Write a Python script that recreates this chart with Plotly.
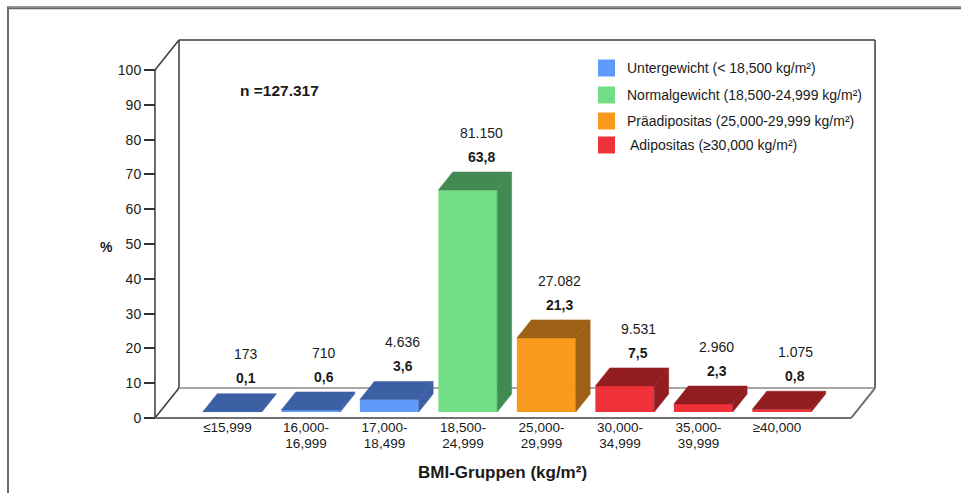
import plotly.graph_objects as go

# ---- data -------------------------------------------------------------
CATEGORIES = ["≤15,999", "16,000-16,999", "17,000-18,499", "18,500-24,999",
              "25,000-29,999", "30,000-34,999", "35,000-39,999", "≥40,000"]
COUNTS = [173, 710, 4636, 81150, 27082, 9531, 2960, 1075]
PERCENT = [0.1, 0.6, 3.6, 63.8, 21.3, 7.5, 2.3, 0.8]
GROUP = [0, 0, 0, 1, 2, 3, 3, 3]
GROUP_LABELS = ["Untergewicht (< 18,500 kg/m²)",
                "Normalgewicht (18,500-24,999 kg/m²)",
                "Präadipositas (25,000-29,999 kg/m²)",
                "Adipositas (≥30,000 kg/m²)"]
N_TOTAL = "127.317"
Y_TICKS = list(range(0, 101, 10))

# ---- styling ----------------------------------------------------------
FRONT = ["#5F9BF8", "#72DC86", "#F79A1E", "#EF323A"]
DARK = ["#3D5FA4", "#418A54", "#9D6016", "#921D21"]
FONT = "Liberation Sans, Arial, sans-serif"
TXT = "#1a1a1a"

W, H = 961, 493
ML, MR, MT, MB = 150, 81, 36, 71
PW, PH = W - ML - MR, H - MT - MB


def px_x(p):
    return (p - ML) / PW


def px_y(p):
    return (H - MB - p) / PH


X_RANGE = [-0.9873, 8.3121]
Y_RANGE = [-1.149, 109.77]

# pseudo-3D box: front floor edge, depth offsets
XL, XF = -0.924, 7.943
DX, DY = 0.306, 8.62
TOP = 100
BAR_W = 0.75
F0, F1 = 0.2, 0.8          # bar depth span as fraction of the box depth

fig = go.Figure()

# front faces of the bars
fx = [i + F0 * DX for i in range(len(PERCENT))]
fig.add_trace(go.Bar(
    x=fx, y=PERCENT, base=F0 * DY, width=BAR_W,
    marker=dict(color=[FRONT[g] for g in GROUP], line=dict(width=0)),
    hoverinfo="skip", showlegend=False))

# top and side faces
bdx, bdy = (F1 - F0) * DX, (F1 - F0) * DY
for i, (v, g) in enumerate(zip(PERCENT, GROUP)):
    xl = fx[i] - BAR_W / 2
    xr = fx[i] + BAR_W / 2
    y0 = F0 * DY
    yt = y0 + v
    top_x = [xl, xr, xr + bdx, xl + bdx, xl]
    top_y = [yt, yt, yt + bdy, yt + bdy, yt]
    side_x = [xr, xr, xr + bdx, xr + bdx, xr]
    side_y = [y0, yt, yt + bdy, y0 + bdy, y0]
    for xs, ys in ((side_x, side_y), (top_x, top_y)):
        fig.add_trace(go.Scatter(
            x=xs, y=ys, mode="lines", fill="toself",
            fillcolor=DARK[g], line=dict(color=DARK[g], width=0.5),
            hoverinfo="skip", showlegend=False))

# helper trace so the second label row axis is rendered
fig.add_trace(go.Scatter(x=[0], y=[0], xaxis="x2", mode="markers",
                         marker=dict(opacity=0), hoverinfo="skip",
                         showlegend=False))

# value labels
for i, (v, c) in enumerate(zip(PERCENT, COUNTS)):
    xc = i + 0.23
    fig.add_annotation(x=xc, y=v + 18.2, text=f"{c:,}".replace(",", "."),
                       showarrow=False, xanchor="center", yanchor="middle",
                       font=dict(size=14, color=TXT, family=FONT))
    fig.add_annotation(x=xc, y=v + 11.3, text="<b>" + f"{v:.1f}".replace(".", ",") + "</b>",
                       showarrow=False, xanchor="center", yanchor="middle",
                       font=dict(size=14, color=TXT, family=FONT))

# box edges
shapes = []
wall = dict(color="#3a3a3a", width=1.5)
floor = dict(color="#707070", width=2)


def seg(x0, y0, x1, y1, line, layer="below"):
    shapes.append(dict(type="line", xref="x", yref="y", x0=x0, y0=y0,
                       x1=x1, y1=y1, line=line, layer=layer))


seg(XL, 0, XL, TOP, wall)                       # front axis line
seg(XL, TOP, XL + DX, TOP + DY, wall)           # left wall top slant
seg(XL + DX, DY, XL + DX, TOP + DY, wall)       # back wall left
seg(XL + DX, TOP + DY, XF + DX, TOP + DY, wall)  # back wall top
seg(XF + DX, DY, XF + DX, TOP + DY, wall)       # back wall right
seg(XL, 0, XL + DX, DY, wall)                   # floor left slant
seg(XL + DX, DY, XF + DX, DY, dict(color="#888888", width=1.5))  # floor back
seg(XL, 0, XF, 0, floor)                        # floor front
seg(XF, 0, XF + DX, DY, floor)                  # floor right slant

# outer frame
shapes.append(dict(type="line", xref="paper", yref="paper",
                   x0=px_x(7), y0=px_y(7.5), x1=px_x(961), y1=px_y(7.5),
                   line=dict(color="#9a9a9a", width=3), layer="above"))
shapes.append(dict(type="line", xref="paper", yref="paper",
                   x0=px_x(7), y0=px_y(8.5), x1=px_x(961), y1=px_y(8.5),
                   line=dict(color="#666666", width=1.5), layer="above"))
shapes.append(dict(type="line", xref="paper", yref="paper",
                   x0=px_x(8), y0=px_y(7), x1=px_x(8), y1=px_y(493),
                   line=dict(color="#6b6b6b", width=2), layer="above"))

# legend
LEG_ROWS = [68, 95, 121, 145]
for g, (label, yr) in enumerate(zip(GROUP_LABELS, LEG_ROWS)):
    shapes.append(dict(type="rect", xref="paper", yref="paper",
                       x0=px_x(598), x1=px_x(615), y0=px_y(yr - 8.5), y1=px_y(yr + 8.5),
                       fillcolor=FRONT[g], line=dict(width=0), layer="above"))
    fig.add_annotation(xref="paper", yref="paper", x=px_x(625 if g < 3 else 628),
                       y=px_y(yr), xanchor="left", yanchor="middle", text=label,
                       showarrow=False, font=dict(size=14, color=TXT, family=FONT))

fig.add_annotation(xref="paper", yref="paper", x=px_x(279), y=px_y(91),
                   xanchor="center", yanchor="middle",
                   text="<b>n =" + N_TOTAL + "</b>", showarrow=False,
                   font=dict(size=15.5, color=TXT, family=FONT))
fig.add_annotation(xref="paper", yref="paper", x=px_x(106), y=px_y(247),
                   xanchor="center", yanchor="middle",
                   text="<b>%</b>", showarrow=False,
                   font=dict(size=14, color=TXT, family=FONT))
fig.add_annotation(xref="paper", yref="paper", x=px_x(502), y=px_y(472),
                   xanchor="center", yanchor="middle",
                   text="<b>BMI-Gruppen (kg/m²)</b>", showarrow=False,
                   font=dict(size=17, color=TXT, family=FONT))

line1 = [c.split("-")[0] + "-" if "-" in c else c for c in CATEGORIES]
line2 = [c.split("-")[1] if "-" in c else "" for c in CATEGORIES]
x_tick_font = dict(size=13.5, color=TXT, family=FONT)
y_tick_font = dict(size=14, color=TXT, family=FONT)

fig.update_layout(
    width=W, height=H, margin=dict(l=ML, r=MR, t=MT, b=MB),
    paper_bgcolor="white", plot_bgcolor="white",
    showlegend=False, hovermode=False, barmode="overlay",
    shapes=shapes,
    xaxis=dict(range=X_RANGE, tickvals=list(range(len(CATEGORIES))), ticktext=line1,
               showgrid=False, zeroline=False, showline=False, ticks="",
               anchor="free", position=px_y(417), tickfont=x_tick_font,
               ticklabelstandoff=0, fixedrange=True),
    xaxis2=dict(range=X_RANGE, tickvals=list(range(len(CATEGORIES))), ticktext=line2,
                overlaying="x", side="bottom", showgrid=False, zeroline=False,
                showline=False, ticks="", anchor="free", position=px_y(417),
                tickfont=x_tick_font, ticklabelstandoff=16, fixedrange=True),
    yaxis=dict(range=Y_RANGE, tickvals=Y_TICKS, showgrid=False, zeroline=False,
               showline=False, ticks="outside", ticklen=11, tickwidth=1.5,
               tickcolor="#333333", anchor="free", position=px_x(155),
               tickfont=y_tick_font, fixedrange=True),
)

fig.write_html("out.html", config={"displayModeBar": False})
